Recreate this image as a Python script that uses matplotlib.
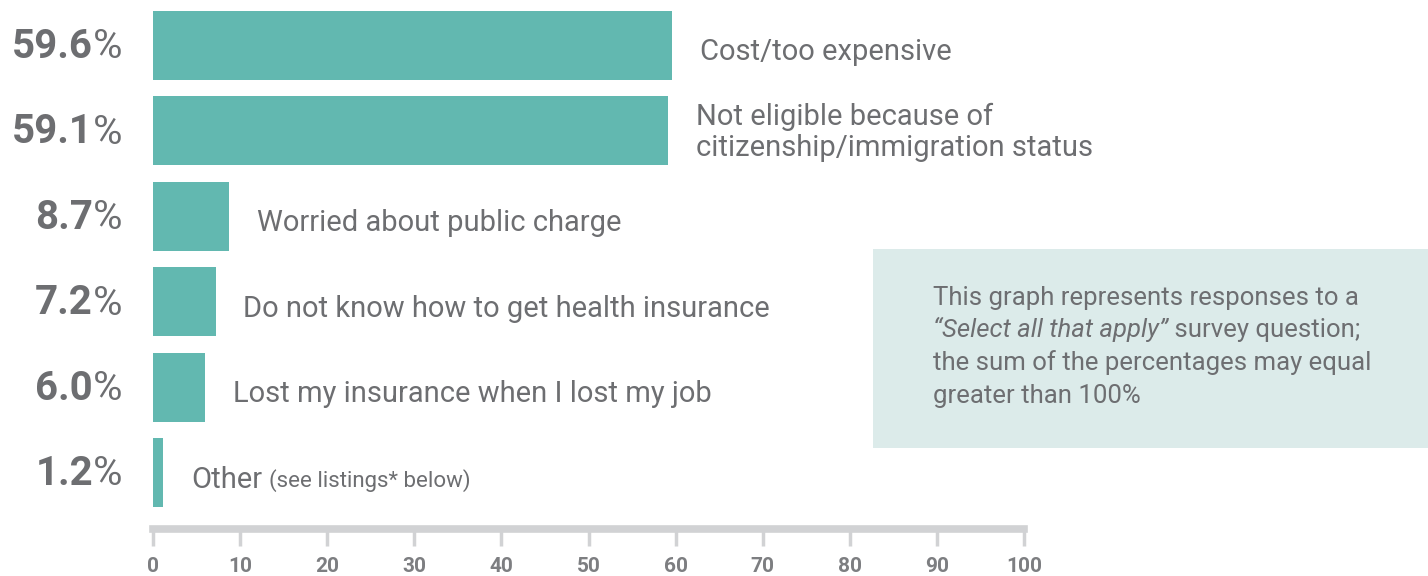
import matplotlib
matplotlib.use("Agg")
import matplotlib.pyplot as plt
from matplotlib.patches import Rectangle

plt.rcParams['font.family'] = ['Roboto', 'DejaVu Sans']

# survey responses, top to bottom
reasons = ["Cost/too expensive",
           "Not eligible because of\ncitizenship/immigration status",
           "Worried about public charge",
           "Do not know how to get health insurance",
           "Lost my insurance when I lost my job",
           "Other"]
shares = [59.6, 59.1, 8.7, 7.2, 6.0, 1.2]
other_note = "(see listings* below)"
ticks = [0, 10, 20, 30, 40, 50, 60, 70, 80, 90, 100]
note_lines = ["This graph represents responses to a",
              ("\u201cSelect all that apply\u201d", " survey question;"),
              "the sum of the percentages may equal",
              "greater than 100%"]

bar_color = "#62b8b0"
text_color = "#6d6e71"
axis_color = "#d1d2d4"
box_color = "#dcebea"

W, H = 1428, 576
fig = plt.figure(figsize=(W / 100, H / 100), dpi=100)
ax = fig.add_axes([153 / W, (H - 529) / H, 871 / W, 529 / H])

ys = list(range(len(shares)))
ax.barh(ys, shares, height=0.81, color=bar_color, zorder=2)
ax.set_xlim(0, 100)
ax.set_ylim(5.66, -0.53)

for s in ["top", "right", "left"]:
    ax.spines[s].set_visible(False)
ax.spines["bottom"].set_color(axis_color)
ax.spines["bottom"].set_linewidth(5.5)
ax.set_yticks([])
ax.set_xticks(ticks)
ax.tick_params(axis="x", length=12, width=2.5, color=axis_color,
               labelcolor="#7d7e81", labelsize=15, pad=8)
for lab in ax.get_xticklabels():
    lab.set_fontweight("bold")

renderer = fig.canvas.get_renderer()

for y, v, name in zip(ys, shares, reasons):
    # value label: bold number, regular percent sign
    pct = ax.annotate("%", xy=(0, y), xytext=(-22, -1),
                      textcoords="offset points", ha="right", va="center",
                      fontsize=29, color=text_color)
    bb = pct.get_window_extent(renderer)
    ax.annotate(f"{v:.1f}", xy=(0, y), xytext=(-22 - bb.width * 72 / 100, -1),
                textcoords="offset points", ha="right", va="center",
                fontsize=29, fontweight="bold", color=text_color)

    dy = -1 if "\n" in name else -5
    lab = ax.annotate(name, xy=(v, y), xytext=(20, dy),
                      textcoords="offset points", ha="left", va="center",
                      fontsize=21, color=text_color, linespacing=1.12)
    if name == "Other":
        bb = lab.get_window_extent(renderer)
        ax.annotate(other_note, xy=(v, y),
                    xytext=(20 + bb.width * 72 / 100 + 5, -6),
                    textcoords="offset points", ha="left", va="center",
                    fontsize=16, color=text_color)

# note box on the right
fig.patches.append(Rectangle((873 / W, (H - 448) / H), 555 / W, 199 / H,
                             transform=fig.transFigure, facecolor=box_color,
                             edgecolor="none", zorder=0))
x0 = 933 / W
fs = 18.5
for k, line in enumerate(note_lines):
    yb = (H - 305 - k * 32.5) / H
    if isinstance(line, tuple):
        t = fig.text(x0, yb, line[0], fontsize=fs, style="italic",
                     color=text_color, va="baseline")
        bb = t.get_window_extent(renderer)
        fig.text(x0 + bb.width / W, yb, line[1], fontsize=fs,
                 color=text_color, va="baseline")
    else:
        fig.text(x0, yb, line, fontsize=fs, color=text_color,
                 va="baseline")

fig.savefig("out.png", dpi=100)
